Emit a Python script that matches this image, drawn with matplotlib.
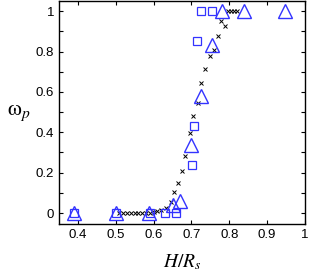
import matplotlib
matplotlib.use("Agg")
import matplotlib.pyplot as plt
from matplotlib.ticker import MultipleLocator

plt.rcParams['font.family'] = ['Liberation Sans', 'DejaVu Sans']
plt.rcParams['mathtext.fontset'] = 'stix'

# crosses (dense curve)
cross_x = [0.51, 0.52, 0.53, 0.54, 0.55, 0.56, 0.57, 0.58, 0.59, 0.60, 0.61, 0.62,
           0.633, 0.645, 0.653, 0.664, 0.674, 0.684, 0.696, 0.705, 0.717, 0.725,
           0.737, 0.748, 0.759, 0.769, 0.778, 0.789, 0.797, 0.805, 0.813, 0.821]
cross_y = [0.0, 0.0, 0.0, 0.0, 0.0, 0.0, 0.0, 0.0, 0.0, 0.005, 0.01, 0.015,
           0.026, 0.056, 0.102, 0.147, 0.208, 0.282, 0.398, 0.48, 0.543, 0.642,
           0.716, 0.78, 0.807, 0.876, 0.95, 0.926, 1.0, 1.0, 1.0, 1.0]

# squares
sq_x = [0.39, 0.50, 0.59, 0.631, 0.66, 0.702, 0.706, 0.715, 0.725, 0.753]
sq_y = [0.0, 0.0, 0.0, 0.0, 0.0, 0.238, 0.43, 0.85, 1.0, 1.0]

# triangles
tri_x = [0.39, 0.502, 0.588, 0.651, 0.670, 0.699, 0.726, 0.754, 0.781, 0.839, 0.947]
tri_y = [0.0, 0.0, 0.0, 0.04, 0.06, 0.337, 0.58, 0.83, 1.0, 1.0, 1.0]

blue = '#3333ff'

fig = plt.figure(figsize=(3.10, 2.73), dpi=100)
ax = fig.add_axes([0.19, 0.179, 0.794, 0.817])

ax.plot(cross_x, cross_y, 'x', color='black', ms=3.5, mew=0.7)
ax.plot(sq_x, sq_y, 's', mfc='none', mec=blue, ms=6.2, mew=0.9)
ax.plot(tri_x, tri_y, '^', mfc='none', mec=blue, ms=10, mew=1.0)

ax.set_xlim(0.35, 1.0)
ax.set_ylim(-0.055, 1.05)
ax.yaxis.set_minor_locator(MultipleLocator(0.1))
ax.set_xticks([0.4, 0.5, 0.6, 0.7, 0.8, 0.9, 1.0])
ax.set_xticklabels(['0.4', '0.5', '0.6', '0.7', '0.8', '0.9', '1'])
ax.set_yticks([0, 0.2, 0.4, 0.6, 0.8, 1.0])
ax.set_yticklabels(['0', '0.2', '0.4', '0.6', '0.8', '1'])
ax.tick_params(which='both', direction='in', top=True, right=True,
               length=3, width=0.8, labelsize=9.5)
for s in ax.spines.values():
    s.set_linewidth(1.0)

ax.set_xlabel(r'$H/R_s$', fontsize=14, labelpad=8)
ax.set_ylabel(r'$\mathrm{\omega}_p$', fontsize=16, rotation=0, labelpad=12, va='center')

fig.savefig('out.png', dpi=100)
